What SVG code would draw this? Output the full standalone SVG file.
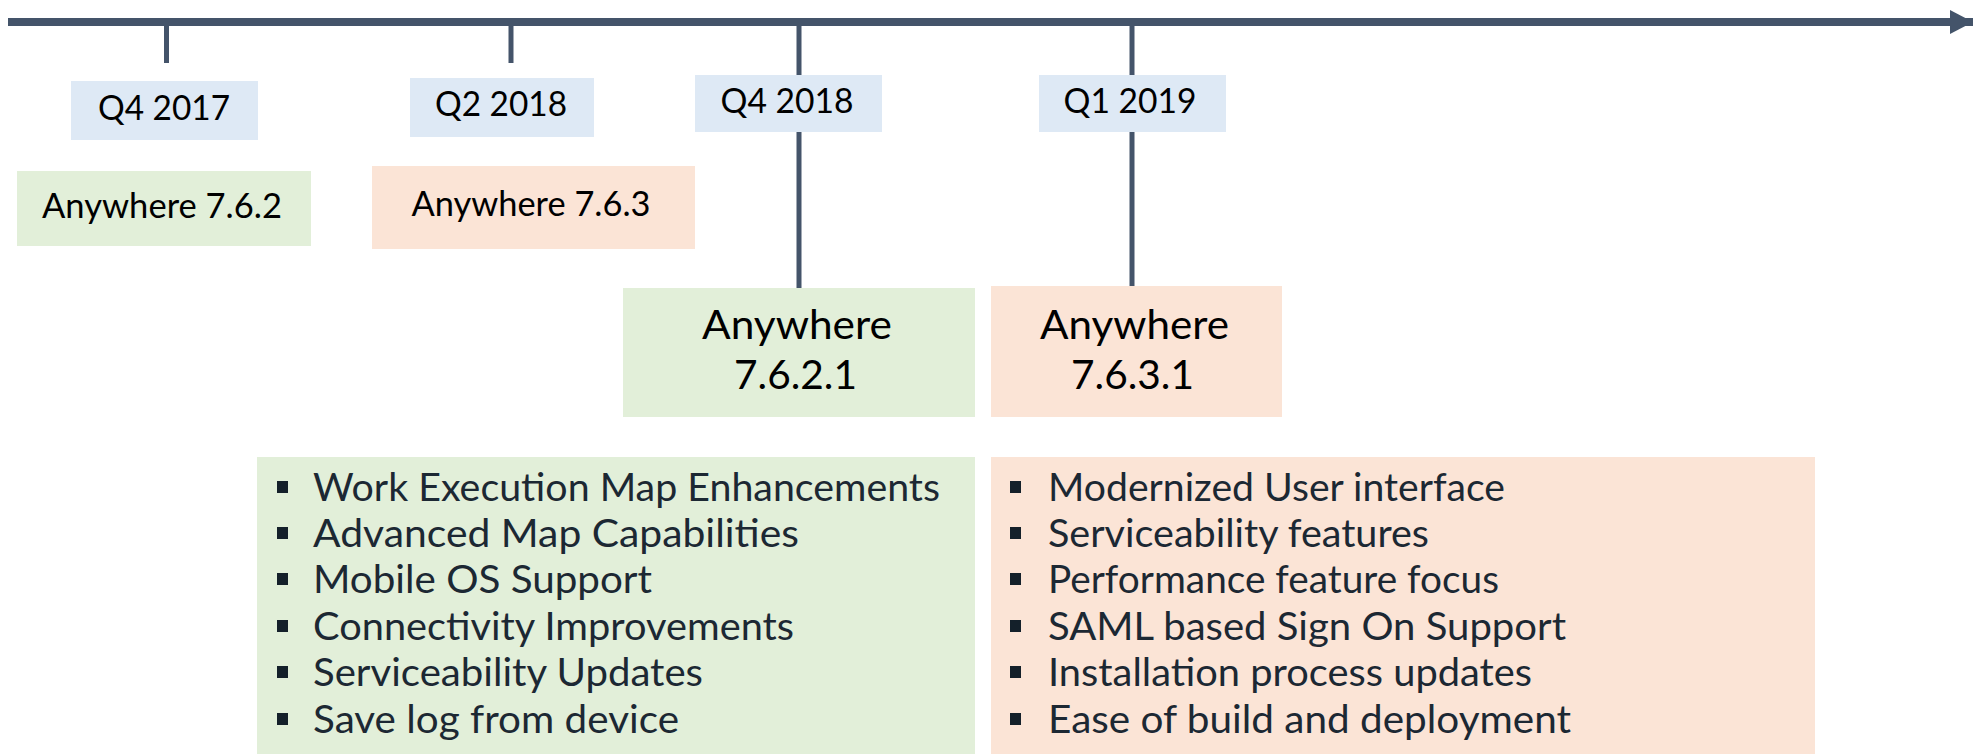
<svg xmlns="http://www.w3.org/2000/svg" width="1984" height="754" viewBox="0 0 1984 754">
<style>
.ln{stroke:#44546a;fill:none}
.q{fill:#dee9f5}
.g{fill:#e2efd9}
.p{fill:#fbe4d6}
.t{font-family:Lato,"Open Sans","Liberation Sans",sans-serif;fill:#000;text-anchor:middle}
.li{font-family:Lato,"Open Sans","Liberation Sans",sans-serif;fill:#1c2833;font-size:38px}
.b{fill:#14202a}
</style>
<defs>
<marker id="ah" markerUnits="userSpaceOnUse" markerWidth="24" markerHeight="26" refX="23" refY="12" orient="auto">
<path d="M0,0 L23,12 L0,24 Z" fill="#44546a"/>
</marker>
</defs>
<g id="connectors">
<line class="ln" x1="8" y1="22" x2="1973" y2="22" stroke-width="8" marker-end="url(#ah)"/>
<line class="ln" x1="166.5" y1="22" x2="166.5" y2="63" stroke-width="5"/>
<line class="ln" x1="511" y1="22" x2="511" y2="63" stroke-width="5"/>
<line class="ln" x1="799" y1="22" x2="799" y2="288" stroke-width="5"/>
<line class="ln" x1="1132" y1="22" x2="1132" y2="286" stroke-width="5"/>
</g>
<g id="q4-2017">
<rect class="q" x="71" y="81" width="187" height="59"/>
<text class="t" x="164" y="120" font-size="34" textLength="132" lengthAdjust="spacingAndGlyphs">Q4 2017</text>
</g>
<g id="q2-2018">
<rect class="q" x="410" y="78" width="184" height="59"/>
<text class="t" x="501" y="116" font-size="34" textLength="132" lengthAdjust="spacingAndGlyphs">Q2 2018</text>
</g>
<g id="q4-2018">
<rect class="q" x="695" y="75" width="187" height="57"/>
<text class="t" x="787" y="113" font-size="34" textLength="133" lengthAdjust="spacingAndGlyphs">Q4 2018</text>
</g>
<g id="q1-2019">
<rect class="q" x="1039" y="75" width="187" height="57"/>
<text class="t" x="1130" y="113" font-size="34" textLength="133" lengthAdjust="spacingAndGlyphs">Q1 2019</text>
</g>
<g id="aw-762">
<rect class="g" x="17" y="171" width="294" height="75"/>
<text class="t" x="162" y="218" font-size="34" textLength="240" lengthAdjust="spacingAndGlyphs">Anywhere 7.6.2</text>
</g>
<g id="aw-763">
<rect class="p" x="372" y="166" width="323" height="83"/>
<text class="t" x="531" y="216" font-size="34" textLength="239" lengthAdjust="spacingAndGlyphs">Anywhere 7.6.3</text>
</g>
<g id="aw-7621">
<rect class="g" x="623" y="288" width="352" height="129"/>
<text class="t" x="797" y="339" font-size="40" textLength="190" lengthAdjust="spacingAndGlyphs">Anywhere</text>
<text class="t" x="795.5" y="389" font-size="40" textLength="123" lengthAdjust="spacingAndGlyphs">7.6.2.1</text>
</g>
<g id="aw-7631">
<rect class="p" x="991" y="286" width="291" height="131"/>
<text class="t" x="1134.5" y="339" font-size="40" textLength="189" lengthAdjust="spacingAndGlyphs">Anywhere</text>
<text class="t" x="1132.5" y="389" font-size="40" textLength="123" lengthAdjust="spacingAndGlyphs">7.6.3.1</text>
</g>
<g id="list-7621">
<rect class="g" x="257" y="457" width="718" height="297"/>
<rect class="b" x="277" y="481" width="11" height="12"/>
<rect class="b" x="277" y="527" width="11" height="12"/>
<rect class="b" x="277" y="573" width="11" height="12"/>
<rect class="b" x="277" y="620" width="11" height="12"/>
<rect class="b" x="277" y="666" width="11" height="12"/>
<rect class="b" x="277" y="713" width="11" height="12"/>
<text class="li" x="313" y="501" textLength="627" lengthAdjust="spacingAndGlyphs">Work Execution Map Enhancements</text>
<text class="li" x="313" y="547" textLength="486" lengthAdjust="spacingAndGlyphs">Advanced Map Capabilities</text>
<text class="li" x="313" y="593" textLength="339" lengthAdjust="spacingAndGlyphs">Mobile OS Support</text>
<text class="li" x="313" y="640" textLength="481" lengthAdjust="spacingAndGlyphs">Connectivity Improvements</text>
<text class="li" x="313" y="686" textLength="390" lengthAdjust="spacingAndGlyphs">Serviceability Updates</text>
<text class="li" x="313" y="733" textLength="366" lengthAdjust="spacingAndGlyphs">Save log from device</text>
</g>
<g id="list-7631">
<rect class="p" x="991" y="457" width="824" height="297"/>
<rect class="b" x="1010" y="481" width="11" height="12"/>
<rect class="b" x="1010" y="527" width="11" height="12"/>
<rect class="b" x="1010" y="573" width="11" height="12"/>
<rect class="b" x="1010" y="620" width="11" height="12"/>
<rect class="b" x="1010" y="666" width="11" height="12"/>
<rect class="b" x="1010" y="713" width="11" height="12"/>
<text class="li" x="1048" y="501" textLength="457" lengthAdjust="spacingAndGlyphs">Modernized User interface</text>
<text class="li" x="1048" y="547" textLength="381" lengthAdjust="spacingAndGlyphs">Serviceability features</text>
<text class="li" x="1048" y="593" textLength="451" lengthAdjust="spacingAndGlyphs">Performance feature focus</text>
<text class="li" x="1048" y="640" textLength="518" lengthAdjust="spacingAndGlyphs">SAML based Sign On Support</text>
<text class="li" x="1048" y="686" textLength="484" lengthAdjust="spacingAndGlyphs">Installation process updates</text>
<text class="li" x="1048" y="733" textLength="523" lengthAdjust="spacingAndGlyphs">Ease of build and deployment</text>
</g>
</svg>
